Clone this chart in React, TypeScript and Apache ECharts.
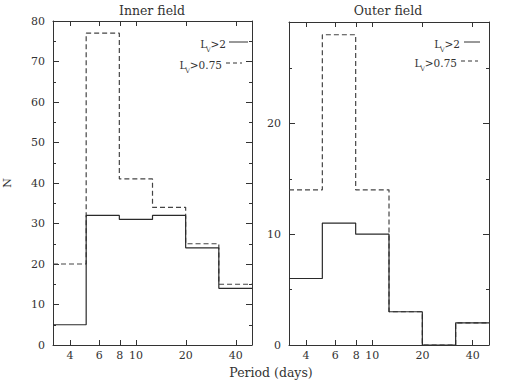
import React, { useEffect, useRef } from 'react';
import * as echarts from 'echarts';

// Bin edges (days), 0.2 dex wide
const binEdges = [3.162, 5.012, 7.943, 12.59, 19.95, 31.62, 50.12];
const innerBright = [5, 32, 31, 32, 24, 14];
const innerAll = [20, 77, 41, 34, 25, 15];
const outerBright = [6, 11, 10, 3, 0, 2];
const outerAll = [14, 28, 14, 3, 0, 2];
const periodTicks = [4, 6, 8, 10, 20, 40];
const innerYMajor = [0, 10, 20, 30, 40, 50, 60, 70, 80];
const innerYMinor = [5, 15, 25, 35, 45, 55, 65, 75];
const outerYMajor = [0, 10, 20];
const outerYMinor = [5, 15, 25];
const innerYMax = 80;
const outerYMax = 29.15;
const panelTitles = ['Inner field', 'Outer field'];
const legendLabels = ['>2', '>0.75'];

const FONT = 'DejaVu Serif';
const INK = '#333333';

function stepData(values: number[]) {
  return binEdges.map((e, i) => [Math.log10(e), values[Math.min(i, values.length - 1)]]);
}

export default function App() {
  const ref = useRef<HTMLDivElement>(null);
  useEffect(() => {
    if (!ref.current) return;
    const chart = echarts.init(ref.current, null, { renderer: 'svg' });
    const xMin = Math.log10(binEdges[0]);
    const xMax = Math.log10(binEdges[binEdges.length - 1]);
    const xTickVals = periodTicks.map((t) => Math.log10(t));

    const grids = [
      { left: 53, top: 21, width: 199, height: 324 },
      { left: 289, top: 22, width: 200, height: 323 },
    ];

    const xAxes: any[] = [];
    const yAxes: any[] = [];
    [0, 1].forEach((g) => {
      ['bottom', 'top'].forEach((pos) => {
        xAxes.push({
          type: 'value',
          gridIndex: g,
          position: pos,
          min: xMin,
          max: xMax,
          axisLine: { show: true, onZero: false, lineStyle: { color: INK, width: 1 } },
          axisTick: { show: true, inside: true, length: 5, customValues: xTickVals, lineStyle: { color: INK } },
          axisLabel: {
            show: pos === 'bottom',
            customValues: xTickVals,
            formatter: (v: number) => String(Math.round(Math.pow(10, v))),
            margin: 5,
            color: INK,
            fontFamily: FONT,
            fontSize: 11,
          },
          splitLine: { show: false },
        });
      });
      const yMax = g === 0 ? innerYMax : outerYMax;
      const major = g === 0 ? innerYMajor : outerYMajor;
      const minor = g === 0 ? innerYMinor : outerYMinor;
      ['left', 'right'].forEach((pos) => {
        yAxes.push({
          type: 'value',
          gridIndex: g,
          position: pos,
          min: 0,
          max: yMax,
          name: g === 0 && pos === 'left' ? 'N' : '',
          nameLocation: 'middle',
          nameGap: 40,
          nameTextStyle: { color: INK, fontFamily: FONT, fontSize: 11 },
          axisLine: { show: true, onZero: false, lineStyle: { color: INK, width: 1 } },
          axisTick: { show: true, inside: true, length: 6, customValues: major, lineStyle: { color: INK } },
          axisLabel: {
            show: pos === 'left',
            customValues: major,
            margin: 8,
            color: INK,
            fontFamily: FONT,
            fontSize: 11,
          },
          splitLine: { show: false },
        });
        yAxes.push({
          type: 'value',
          gridIndex: g,
          position: pos,
          min: 0,
          max: yMax,
          axisLine: { show: false },
          axisTick: { show: true, inside: true, length: 3, customValues: minor, lineStyle: { color: INK } },
          axisLabel: { show: false },
          splitLine: { show: false },
        });
      });
    });

    const mk = (values: number[], g: number, dashed: boolean) => ({
      type: 'line',
      step: 'end',
      xAxisIndex: g * 2,
      yAxisIndex: g * 4,
      data: stepData(values),
      symbol: 'none',
      silent: true,
      lineStyle: {
        color: dashed ? '#444' : '#2a2a2a',
        width: 1.2,
        type: dashed ? [5, 3] : 'solid',
      },
      z: dashed ? 2 : 3,
    });

    const legendItem = (rightX: number, y: number, label: string, dashed: boolean, lineX0: number, lineX1: number) => [
      {
        type: 'text',
        x: rightX,
        y: y,
        style: {
          text: `{a|L}{s|V}{a|${label}}`,
          align: 'right',
          verticalAlign: 'middle',
          fill: INK,
          rich: {
            a: { fontFamily: FONT, fontSize: 10.5, fill: INK, lineHeight: 14, verticalAlign: 'bottom' },
            s: { fontFamily: FONT, fontSize: 6, fill: INK, lineHeight: 14, verticalAlign: 'bottom', padding: [0, 0, -3, -1] },
          },
        },
      },
      {
        type: 'line',
        shape: { x1: lineX0, y1: y, x2: lineX1, y2: y },
        style: { stroke: INK, lineWidth: 1, lineDash: dashed ? [4, 3] : null },
      },
    ];

    chart.setOption({
      animation: false,
      backgroundColor: '#ffffff',
      grid: grids,
      xAxis: xAxes,
      yAxis: yAxes,
      series: [
        mk(innerAll, 0, true),
        mk(innerBright, 0, false),
        mk(outerAll, 1, true),
        mk(outerBright, 1, false),
      ],
      graphic: [
        { type: 'text', x: 152, y: 10, style: { text: panelTitles[0], align: 'center', verticalAlign: 'middle', fill: INK, font: `12.5px "${FONT}"` } },
        { type: 'text', x: 388, y: 10, style: { text: panelTitles[1], align: 'center', verticalAlign: 'middle', fill: INK, font: `12.5px "${FONT}"` } },
        { type: 'text', x: 271, y: 372, style: { text: 'Period (days)', align: 'center', verticalAlign: 'middle', fill: INK, font: `12.5px "${FONT}"` } },
        ...legendItem(226, 42, legendLabels[0], false, 229, 248),
        ...legendItem(222, 63, legendLabels[1], true, 226, 242),
        ...legendItem(460, 42, legendLabels[0], false, 464, 480),
        ...legendItem(457, 61, legendLabels[1], true, 461, 478),
      ],
    });
    return () => chart.dispose();
  }, []);
  return <div ref={ref} style={{ position: 'absolute', left: 0, top: 0, width: 520, height: 389 }} />;
}
